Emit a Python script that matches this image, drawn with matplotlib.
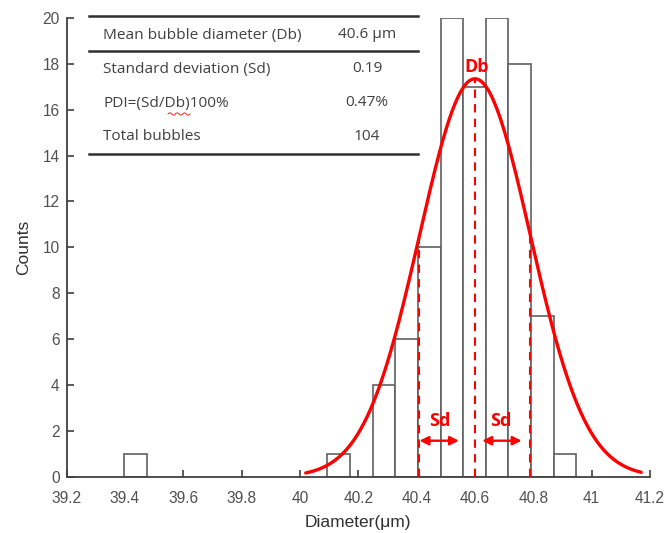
import numpy as np
import matplotlib
matplotlib.use("Agg")
import matplotlib.pyplot as plt

# ---------- data ----------
BIN_START = 39.397
BIN_WIDTH = 0.0775
COUNTS = [1, 0, 0, 0, 0, 0, 0, 0, 0, 1, 0, 4, 6, 10, 20, 17, 20, 18, 7, 1]

MEAN_DB = 40.6      # um
SD = 0.19
PDI = "0.47%"
TOTAL = 104
FIT_PEAK = 17.35    # height of fitted normal curve
FIT_RANGE = (40.02, 41.17)

TABLE_ROWS = [
    ("Mean bubble diameter (Db)", "40.6 µm"),
    ("Standard deviation (Sd)", "0.19"),
    ("PDI=(Sd/Db)100%", PDI),
    ("Total bubbles", str(TOTAL)),
]

XTICKS = [39.2, 39.4, 39.6, 39.8, 40, 40.2, 40.4, 40.6, 40.8, 41, 41.2]
YTICKS = list(range(0, 21, 2))

# ---------- style ----------
AX_COLOR = "#404040"
BAR_EDGE = "#606060"
RED = "#ff0000"
plt.rcParams["font.family"] = ["Liberation Sans", "DejaVu Sans"]
ANNOT_FONT = ["Open Sans", "DejaVu Sans"]

def gauss(x):
    return FIT_PEAK * np.exp(-(x - MEAN_DB) ** 2 / (2 * SD ** 2))

fig = plt.figure(figsize=(6.65, 5.33), dpi=100)
ax = fig.add_axes([0.1, 0.1056, 0.8774, 0.8606])

edges = BIN_START + BIN_WIDTH * np.arange(len(COUNTS) + 1)
lefts = edges[:-1]
heights = np.array(COUNTS)
keep = heights > 0
ax.bar(lefts[keep], heights[keep], width=BIN_WIDTH, align="edge",
       facecolor="white", edgecolor=BAR_EDGE, linewidth=1.2, zorder=2)

# fitted normal curve
xs = np.linspace(FIT_RANGE[0], FIT_RANGE[1], 400)
ax.plot(xs, gauss(xs), color=RED, lw=2.4, zorder=4, solid_capstyle="round")

# dashed guides at Db and Db +/- Sd, up to the curve
for xv in (MEAN_DB - SD, MEAN_DB, MEAN_DB + SD):
    ax.plot([xv, xv], [0, gauss(xv)], color=RED, lw=1.5, ls=(0, (4, 3)), zorder=3)

ax.text(MEAN_DB + 0.005, FIT_PEAK + 0.1, "Db", color=RED, fontsize=13,
        fontweight="bold", ha="center", va="bottom", family=ANNOT_FONT, zorder=5)

# Sd arrows
arrow_y = 1.57
arrow_kw = dict(arrowstyle="<|-|>", color=RED, lw=1.7, mutation_scale=13,
                shrinkA=0, shrinkB=0)
ax.annotate("", xy=(MEAN_DB - SD, arrow_y), xytext=(MEAN_DB - 0.055, arrow_y),
            arrowprops=arrow_kw, zorder=5)
ax.annotate("", xy=(MEAN_DB + 0.025, arrow_y), xytext=(MEAN_DB + 0.16, arrow_y),
            arrowprops=arrow_kw, zorder=5)
for xc in (MEAN_DB - 0.12, MEAN_DB + 0.09):
    ax.text(xc, 2.45, "Sd", color=RED, fontsize=13, fontweight="bold",
            ha="center", va="center", family=ANNOT_FONT, zorder=5)

# axes
ax.set_xlim(39.2, 41.2)
ax.set_ylim(0, 20)
ax.set_xticks(XTICKS)
ax.set_xticklabels([f"{t:g}" for t in XTICKS])
ax.set_yticks(YTICKS)
for s in ("top", "right"):
    ax.spines[s].set_visible(False)
for s in ("left", "bottom"):
    ax.spines[s].set_color(AX_COLOR)
    ax.spines[s].set_linewidth(1.3)
ax.tick_params(direction="in", length=5, width=1.2, color=AX_COLOR,
               labelcolor="#505050", labelsize=11.2)
ax.tick_params(axis="x", pad=10)
ax.tick_params(axis="y", pad=5)
ax.set_xlabel("Diameter(μm)", fontsize=12.5, color="#303030", labelpad=7)
ax.set_ylabel("Counts", fontsize=12.5, color="#303030", labelpad=8)

# summary table
tx0, tx1 = 89 / 665, 418 / 665
for ypx in (15.7, 51, 154):
    yf = 1 - ypx / 533
    fig.add_artist(plt.Line2D([tx0, tx1], [yf, yf], transform=fig.transFigure,
                              color="#303030", lw=1.8))
row_px = [35, 69, 103, 137]
for (label, val), ypx in zip(TABLE_ROWS, row_px):
    yf = 1 - ypx / 533
    fig.text(103 / 665, yf, label, fontsize=11.1, color="#404040",
             family=ANNOT_FONT, ha="left", va="center")
    fig.text(367 / 665, yf, val, fontsize=11.1, color="#404040",
             family=ANNOT_FONT, ha="center", va="center")

# spell-check squiggle under "Db"
wx = np.linspace(168 / 665, 190 / 665, 30)
wy = 1 - 114 / 533 + 0.0022 * np.sin(np.linspace(0, 6 * np.pi, 30))
fig.add_artist(plt.Line2D(wx, wy, transform=fig.transFigure, color=RED, lw=0.6))

fig.savefig("out.png", dpi=100)
